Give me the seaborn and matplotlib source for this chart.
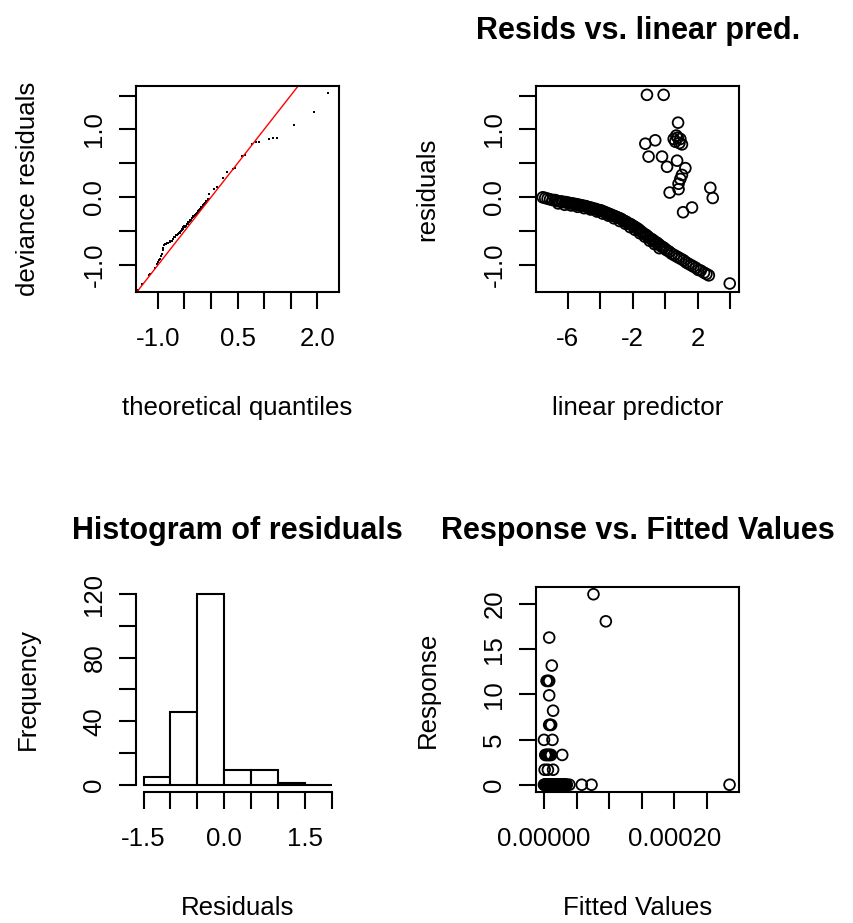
import matplotlib
matplotlib.use("Agg")
import matplotlib.pyplot as plt
import numpy as np
import pandas as pd
import seaborn as sns

# ---------------- data ----------------
# Panel 1: QQ plot of deviance residuals
qq_theoretical = [-1.37, -1.30, -1.175, -1.14, -1.06, -1.02, -0.99, -0.97, -0.96, -0.94,
                  -0.93, -0.91, -0.90, -0.88, -0.86, -0.83, -0.80, -0.77, -0.74, -0.72,
                  -0.70, -0.68, -0.65, -0.63, -0.61, -0.59, -0.57, -0.55, -0.53, -0.52,
                  -0.50, -0.48, -0.46, -0.45, -0.43, -0.41, -0.40, -0.38, -0.36, -0.34,
                  -0.33, -0.31, -0.30, -0.28, -0.27, -0.25, -0.24, -0.22, -0.21, -0.19,
                  -0.18, -0.17, -0.15, -0.14, -0.13, -0.11, -0.10, -0.09, -0.08, -0.07,
                  -0.06, -0.05, -0.04, -0.03, 0.065, 0.11, 0.22, 0.31, 0.41, 0.45,
                  0.59, 0.64, 0.77, 0.84, 0.91, 1.09, 1.16, 1.24, 1.57, 1.94, 2.20,
                  -0.58, -0.54, -0.49, -0.44, -0.39, -0.35, -0.32, -0.26, -0.23, -0.20,
                  -0.16, -0.12, -0.84, -0.78, -0.69, -0.62, -0.47, -0.37, -0.29, -0.09]
qq_deviance = [-1.36, -1.28, -1.15, -1.13, -1.04, -0.98, -0.96, -0.93, -0.91, -0.87,
               -0.83, -0.78, -0.74, -0.71, -0.69, -0.68, -0.67, -0.65, -0.64, -0.61,
               -0.59, -0.58, -0.56, -0.55, -0.53, -0.51, -0.49, -0.47, -0.46, -0.44,
               -0.43, -0.42, -0.40, -0.39, -0.37, -0.36, -0.34, -0.33, -0.31, -0.29,
               -0.28, -0.27, -0.26, -0.24, -0.23, -0.21, -0.20, -0.19, -0.18, -0.16,
               -0.15, -0.14, -0.12, -0.11, -0.10, -0.09, -0.08, -0.07, -0.06, -0.05,
               -0.04, -0.03, -0.02, 0.05, 0.12, 0.15, 0.29, 0.37, 0.42, 0.43,
               0.61, 0.63, 0.79, 0.81, 0.82, 0.86, 0.88, 0.88, 1.06, 1.26, 1.53,
               -0.52, -0.48, -0.44, -0.40, -0.35, -0.31, -0.28, -0.23, -0.20, -0.17,
               -0.14, -0.10, -0.69, -0.66, -0.59, -0.54, -0.42, -0.33, -0.25, -0.06]

# Panel 2: residuals vs linear predictor
lp_curve = [-7.55, -7.40, -7.25, -7.10, -6.95, -6.80, -6.70, -6.55, -6.40, -6.30,
            -6.15, -6.05, -5.95, -5.85, -5.70, -5.60, -5.50, -5.40, -5.30, -5.20,
            -5.10, -5.00, -4.90, -4.80, -4.70, -4.60, -4.50, -4.40, -4.30, -4.20,
            -4.10, -4.00, -3.90, -3.80, -3.70, -3.60, -3.50, -3.40, -3.30, -3.20,
            -3.10, -3.00, -2.90, -2.80, -2.70, -2.60, -2.50, -2.40, -2.30, -2.20,
            -2.10, -2.00, -1.90, -1.80, -1.70, -1.60, -1.50, -1.40, -1.30, -1.20,
            -1.10, -1.00, -0.90, -0.80, -0.70, -0.60, -0.50, -0.40, -0.30, -0.20,
            -0.10, 0.00, 0.10, 0.25, 0.40, 0.55, 0.70, 0.85, 1.00, 1.15,
            1.30, 1.45, 1.60, 1.75, 1.90, 2.05, 2.20, 2.40, 2.55, 2.70,
            -6.60, -6.20, -5.80, -5.40, -5.00, -4.60, -4.20, -3.85, -3.50, -3.15,
            -2.80, -2.45, -2.15, -1.85, -1.55, -1.25, -0.95, -0.65, -0.35]
res_curve = [0.00, -0.01, -0.02, -0.03, -0.04, -0.04, -0.05, -0.06, -0.06, -0.07,
             -0.07, -0.08, -0.08, -0.09, -0.09, -0.10, -0.10, -0.11, -0.11, -0.12,
             -0.12, -0.13, -0.13, -0.14, -0.15, -0.15, -0.16, -0.17, -0.17, -0.18,
             -0.19, -0.19, -0.20, -0.21, -0.22, -0.23, -0.24, -0.25, -0.26, -0.27,
             -0.28, -0.29, -0.30, -0.31, -0.32, -0.34, -0.35, -0.36, -0.38, -0.39,
             -0.40, -0.42, -0.43, -0.45, -0.46, -0.48, -0.50, -0.52, -0.54, -0.55,
             -0.57, -0.59, -0.61, -0.62, -0.64, -0.66, -0.67, -0.69, -0.71, -0.73,
             -0.74, -0.76, -0.78, -0.80, -0.83, -0.85, -0.87, -0.89, -0.91, -0.93,
             -0.96, -0.98, -1.00, -1.02, -1.04, -1.07, -1.08, -1.11, -1.13, -1.15,
             -0.09, -0.11, -0.12, -0.14, -0.16, -0.18, -0.21, -0.24, -0.27, -0.31,
             -0.35, -0.39, -0.44, -0.48, -0.53, -0.58, -0.64, -0.69, -0.75]
lp_out = [-1.12, -0.09, 0.80, 0.53, 0.69, 0.94, 0.63, 1.04, 0.78, 0.88,
          -1.22, -0.61, -1.02, -0.19, 0.12, 0.74, 1.25, 1.04, 0.94, 0.83,
          0.28, 0.83, 2.79, 2.94, 1.66, 1.11, 3.99]
res_out = [1.51, 1.51, 1.10, 0.86, 0.91, 0.86, 0.82, 0.78, 0.88, 0.80,
           0.79, 0.84, 0.60, 0.60, 0.45, 0.54, 0.43, 0.33, 0.27, 0.20,
           0.07, 0.12, 0.14, -0.01, -0.15, -0.22, -1.27]

# Panel 3: histogram of residuals
hist_edges = [-1.5, -1.0, -0.5, 0.0, 0.5, 1.0, 1.5, 2.0]
hist_counts = [5, 46, 120, 9, 9, 1, 0]

# Panel 4: response vs fitted values
fitted = [0.0, 1.5e-6, 3e-6, 4.5e-6, 6e-6, 7.5e-6, 9e-6, 1.05e-5, 1.2e-5, 1.35e-5,
          1.5e-5, 1.65e-5, 1.8e-5, 1.95e-5, 2.1e-5, 2.25e-5, 2.4e-5, 2.55e-5, 2.7e-5,
          2.85e-5, 3.0e-5, 3.15e-5, 3.3e-5, 3.5e-5, 3.9e-5, 5.8e-5, 7.3e-5, 2.85e-4,
          0.7e-6, 2.2e-6, 3.7e-6, 5.2e-6, 6.7e-6, 8.2e-6, 9.7e-6, 1.12e-5, 1.27e-5,
          1.42e-5, 1.57e-5, 1.72e-5, 1.87e-5, 2.02e-5, 2.17e-5, 2.32e-5, 2.47e-5,
          2.62e-5, 2.77e-5, 2.92e-5, 3.07e-5, 3.22e-5, 3.4e-5,
          1e-6, 6e-6, 1.4e-5,
          2e-6, 3.5e-6, 5e-6, 6.5e-6, 8e-6, 9.5e-6, 1.1e-5, 2.8e-5,
          0.0, 1.3e-5,
          8e-6, 9.5e-6, 1.1e-5,
          1.4e-5, 8e-6, 4e-6, 6e-6, 8e-6, 1.2e-5, 8e-6, 9.5e-5, 7.6e-5]
response = [0, 0, 0, 0, 0, 0, 0, 0, 0, 0,
            0, 0, 0, 0, 0, 0, 0, 0, 0,
            0, 0, 0, 0, 0, 0, 0, 0, 0,
            0, 0, 0, 0, 0, 0, 0, 0, 0,
            0, 0, 0, 0, 0, 0, 0, 0,
            0, 0, 0, 0, 0, 0,
            1.66, 1.66, 1.66,
            3.3, 3.3, 3.3, 3.3, 3.3, 3.3, 3.3, 3.3,
            4.97, 4.97,
            6.63, 6.63, 6.63,
            8.2, 9.9, 11.5, 11.5, 11.5, 13.2, 16.3, 18.1, 21.1]

# ---------------- styling ----------------
sns.set_style("white")
plt.rcParams["font.family"] = ["Liberation Sans", "DejaVu Sans"]
plt.rcParams["text.color"] = "black"
plt.rcParams["axes.labelcolor"] = "black"
plt.rcParams["xtick.color"] = "black"
plt.rcParams["ytick.color"] = "black"
FS = 18.6
LW = 1.5
MS = 60
MLW = 1.3

fig = plt.figure(figsize=(8.54, 9.23), dpi=100)
fig.patch.set_facecolor("white")
ax1 = fig.add_axes([0.1593, 0.6833, 0.2377, 0.2235])
ax2 = fig.add_axes([0.6276, 0.6833, 0.2381, 0.2235])
ax3 = fig.add_axes([0.1593, 0.1416, 0.2377, 0.2228])
ax4 = fig.add_axes([0.6276, 0.1416, 0.2381, 0.2228])


def style(ax, xticks, xlabels, yticks, ylabels, box=True):
    for s in ax.spines.values():
        s.set_color("black")
        s.set_linewidth(LW)
        s.set_visible(box)
    ax.set_xticks(xticks)
    ax.set_xticklabels(xlabels)
    ax.set_yticks(yticks)
    ax.set_yticklabels(ylabels)
    ax.tick_params(axis="both", direction="out", length=12, width=LW,
                   color="black", labelsize=FS, labelcolor="black")
    ax.tick_params(axis="x", pad=12.8, bottom=True)
    ax.tick_params(axis="y", pad=9.3, left=True, labelrotation=90)
    plt.setp(ax.get_yticklabels(), va="center", ha="right")
    ax.grid(False)


def labels(ax, title, xl, yl):
    if title:
        ax.set_title(title, fontsize=22, fontweight="bold", pad=34, color="black")
    ax.set_xlabel(xl, fontsize=FS, color="black")
    ax.set_ylabel(yl, fontsize=FS, color="black")
    ax.xaxis.set_label_coords(0.5, -0.505)
    ax.yaxis.set_label_coords(-0.475, 0.5)


# Panel 1
sns.scatterplot(x=qq_theoretical, y=qq_deviance, ax=ax1, marker="s", s=4,
                color="black", linewidth=0)
ax1.axline((0, 0), slope=1, color="red", lw=1)
ax1.set_xlim(-1.41, 2.41)
ax1.set_ylim(-1.40, 1.64)
style(ax1, [-1.0, -0.5, 0.0, 0.5, 1.0, 1.5, 2.0],
      ["-1.0", "", "", "0.5", "", "", "2.0"],
      [-1.0, -0.5, 0.0, 0.5, 1.0, 1.5], ["-1.0", "", "0.0", "", "1.0", ""])
labels(ax1, None, "theoretical quantiles", "deviance residuals")

# Panel 2
sns.scatterplot(x=lp_curve + lp_out, y=res_curve + res_out, ax=ax2, marker="o",
                s=MS, linewidth=MLW)
coll = ax2.collections[-1]
coll.set_facecolor("none")
coll.set_edgecolor("black")
ax2.set_xlim(-7.97, 4.58)
ax2.set_ylim(-1.40, 1.64)
style(ax2, [-6, -4, -2, 0, 2, 4], ["-6", "", "-2", "", "2", ""],
      [-1.0, -0.5, 0.0, 0.5, 1.0, 1.5], ["-1.0", "", "0.0", "", "1.0", ""])
labels(ax2, "Resids vs. linear pred.", "linear predictor", "residuals")

# Panel 3
centers = [(a + b) / 2 for a, b in zip(hist_edges[:-1], hist_edges[1:])]
sns.histplot(x=centers, weights=hist_counts, bins=hist_edges, ax=ax3,
             color="white", edgecolor="black", linewidth=LW, alpha=1)
ax3.set_xlim(-1.64, 2.14)
ax3.set_ylim(-4.8, 124.8)
style(ax3, hist_edges, ["-1.5", "", "", "0.0", "", "", "1.5", ""],
      [0, 20, 40, 60, 80, 100, 120], ["0", "", "40", "", "80", "", "120"], box=False)
ax3.spines["left"].set_visible(True)
ax3.spines["bottom"].set_visible(True)
ax3.spines["left"].set_bounds(0, 120)
ax3.spines["bottom"].set_bounds(-1.5, 2.0)
labels(ax3, "Histogram of residuals", "Residuals", "Frequency")

# Panel 4
sns.scatterplot(x=fitted, y=response, ax=ax4, marker="o", s=MS, linewidth=MLW)
coll = ax4.collections[-1]
coll.set_facecolor("none")
coll.set_edgecolor("black")
ax4.set_xlim(-1.23e-5, 3.0e-4)
ax4.set_ylim(-0.84, 21.94)
style(ax4, [0, 5e-5, 1e-4, 1.5e-4, 2e-4, 2.5e-4],
      ["0.00000", "", "", "", "0.00020", ""],
      [0, 5, 10, 15, 20], ["0", "5", "10", "15", "20"])
labels(ax4, "Response vs. Fitted Values", "Fitted Values", "Response")

fig.savefig("out.png", dpi=100, facecolor="white")
